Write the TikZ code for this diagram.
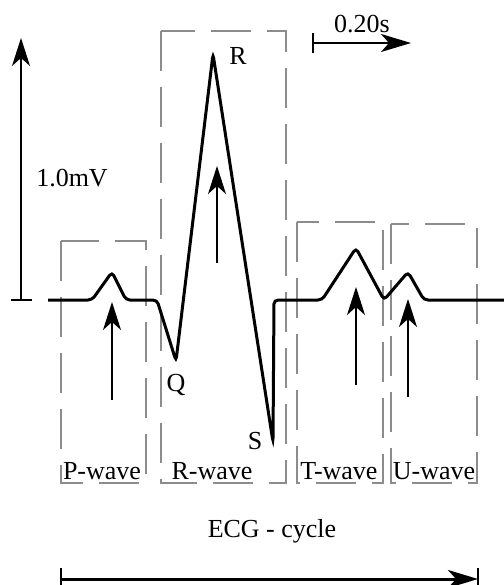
\documentclass[tikz,border=0pt]{standalone}
\usepackage{fontspec}
\setmainfont{Liberation Serif}
\usetikzlibrary{arrows.meta}

\begin{document}
\begin{tikzpicture}[
    x=0.5pt, y=-0.5pt,
    every node/.style={font=\fontsize{13}{15}\selectfont, inner sep=0pt},
    wavebox/.style={draw=gray!90, dash pattern=on 20pt off 8pt, line width=0.6pt},
    trace/.style={line width=1.5pt, rounded corners=2pt},
    uparrow/.style={-{Stealth[length=14pt,width=9pt,inset=4pt]}, line width=0.6pt},
    spanarrow/.style={-{Stealth[length=15pt,width=9pt,inset=4pt]}, line width=1pt},
    bar/.style={line width=1.3pt}
]
\useasboundingbox (0,0) rectangle (504,585);

% dashed boxes round the waves
\draw[wavebox] (61,241) rectangle (146,483);
\draw[wavebox] (161,31) rectangle (286,483);
\draw[wavebox] (297,222) rectangle (383,483);
\draw[wavebox] (391,224) rectangle (477,483);

% ECG trace
\draw[bar] (11,300) -- (32,300);
\draw[trace] (48,300) -- (92,300) -- (112,272) -- (126,300) -- (157,300)
    -- (176,361) -- (213,54) -- (273,442) -- (274,300) -- (322,300)
    -- (356,248) -- (384,300) -- (408,272) -- (424,300) -- (504,300);

% amplitude scale
\coordinate (ampbase) at (21,300);
\coordinate (amptop) at (21,38);
\draw[uparrow] (ampbase) -- (amptop);
\node (amp) at (72,178) {1.0mV};

% time scale
\coordinate (timestart) at (313,43);
\coordinate (timeend) at (411,43);
\draw[bar] (313,33) -- (313,53);
\draw[spanarrow] (timestart) -- (timeend);
\node (time) at (362,24) {0.20s};

% arrows pointing at the waves
\coordinate (ptail) at (112,400); \coordinate (ptip) at (112,302);
\coordinate (rtail) at (217,263); \coordinate (rtip) at (217,166);
\coordinate (ttail) at (356,385); \coordinate (ttip) at (356,287);
\coordinate (utail) at (408,397); \coordinate (utip) at (408,299);
\draw[uparrow] (ptail) -- (ptip);
\draw[uparrow] (rtail) -- (rtip);
\draw[uparrow] (ttail) -- (ttip);
\draw[uparrow] (utail) -- (utip);

% peak labels
\node (rlabel) at (238,56) {R};
\node (qlabel) at (176,385) {Q};
\node (slabel) at (255,441) {S};

% wave names
\node[anchor=base] (pwave) at (102,479) {P-wave};
\node[anchor=base] (rwave) at (212,479) {R-wave};
\node[anchor=base] (twave) at (339,479) {T-wave};
\node[anchor=base] (uwave) at (434,479) {U-wave};

% cycle length
\node (cycle) at (272,531) {ECG - cycle};
\coordinate (cyclestart) at (61,579);
\coordinate (cycleend) at (478,579);
\draw[bar] (61,568) -- (61,592);
\draw[bar] (478,568) -- (478,592);
\draw[spanarrow, line width=1.5pt] (cyclestart) -- (cycleend);

\end{tikzpicture}
\end{document}
